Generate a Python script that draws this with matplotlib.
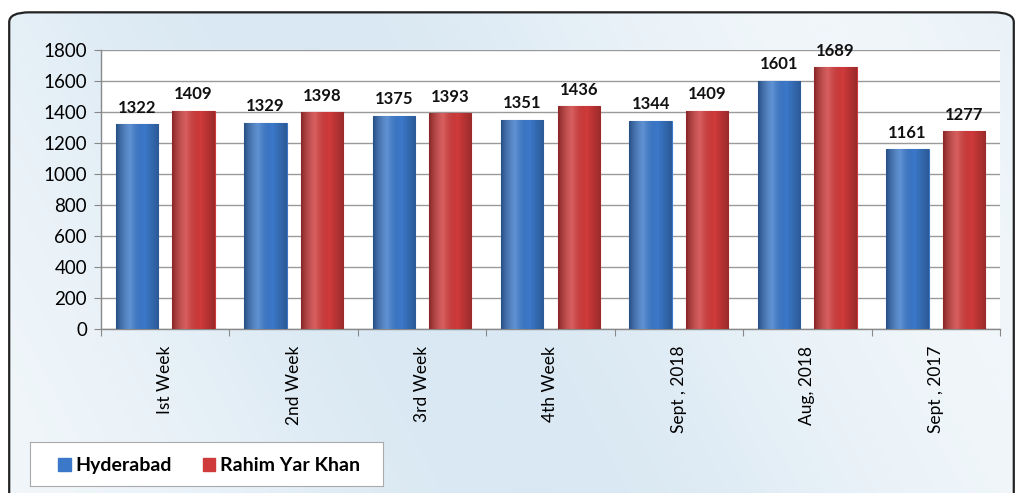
import numpy as np
import matplotlib.pyplot as plt
from matplotlib.patches import FancyBboxPatch, Rectangle
from matplotlib.colors import LinearSegmentedColormap

plt.rcParams['font.family'] = ['Lato', 'DejaVu Sans']

categories = ['Ist Week', '2nd Week', '3rd Week', '4th Week', 'Sept , 2018', 'Aug, 2018', 'Sept , 2017']
hyderabad = [1322, 1329, 1375, 1351, 1344, 1601, 1161]
rahim_yar_khan = [1409, 1398, 1393, 1436, 1409, 1689, 1277]
series_names = ['Hyderabad', 'Rahim Yar Khan']

blue = '#3b78c9'
red = '#cf3a3a'

fig = plt.figure(figsize=(10.23, 4.93), dpi=100)
fig.patch.set_facecolor('white')

# background panel with light blue gradient
bg = fig.add_axes([0, 0, 1, 1], zorder=-10)
bg.set_xlim(0, 1)
bg.set_ylim(0, 1)
bg.axis('off')
grad = np.linspace(0, 1, 256)
gx, gy = np.meshgrid(grad, grad)
field = 0.5 + 0.5 * np.cos(gx * 6.0 + gy * 1.5)
bg_cmap = LinearSegmentedColormap.from_list('bg', ['#d9e8f3', '#f0f6fa'])
img = bg.imshow(field, extent=[0, 1, 0, 1], cmap=bg_cmap, aspect='auto', origin='lower')
frame = FancyBboxPatch((0.009, -0.05), 0.982, 1.025, boxstyle='round,pad=0,rounding_size=0.02',
                       transform=bg.transAxes, facecolor='none', edgecolor='#222222', linewidth=1.6)
bg.add_patch(frame)
img.set_clip_path(frame)

ax = fig.add_axes([0.0987, 0.3327, 0.8788, 0.5659])
ax.set_facecolor('white')

x = np.arange(len(categories))
w = 0.33
off = 0.22


def shaded_bars(xs, vals, color):
    bars = ax.bar(xs, vals, w, color=color, edgecolor=color, linewidth=0.8, zorder=3)
    shade = LinearSegmentedColormap.from_list('s', ['#00000055', '#ffffff30', '#00000000', '#00000040'])
    for b in bars:
        im = ax.imshow(np.linspace(0, 1, 64)[None, :], extent=[b.get_x(), b.get_x() + b.get_width(), 0, b.get_height()],
                       cmap=shade, aspect='auto', zorder=4, origin='lower')
        im.set_clip_path(b)
    return bars


b1 = shaded_bars(x - off, hyderabad, blue)
b2 = shaded_bars(x + off, rahim_yar_khan, red)

for xs, vals in [(x - off, hyderabad), (x + off, rahim_yar_khan)]:
    for xi, v in zip(xs, vals):
        ax.text(xi, v + 55, str(v), ha='center', va='bottom', fontsize=12, fontweight='bold', color='#111111', zorder=5)

ax.set_xlim(-0.5, len(categories) - 0.5)
ax.set_ylim(0, 1800)
ax.set_yticks(np.arange(0, 1801, 200))
ax.yaxis.grid(True, color='#9a9a9a', linewidth=1.0, zorder=0)
ax.set_axisbelow(True)

ax.set_xticks(np.arange(-0.5, len(categories), 1.0))
ax.set_xticklabels([])
ax.set_xticks(x, minor=True)
ax.set_xticklabels(categories, minor=True, rotation=90, fontsize=12.5)
ax.tick_params(axis='x', which='minor', length=0, pad=12)
ax.tick_params(axis='x', which='major', length=5, color='#888888', direction='out')
ax.tick_params(axis='y', length=5, color='#888888', labelsize=13.5, pad=5)

for s in ['top', 'right']:
    ax.spines[s].set_visible(False)
for s in ['left', 'bottom']:
    ax.spines[s].set_color('#888888')
    ax.spines[s].set_linewidth(1.0)

# legend
leg_ax = fig.add_axes([0.029, 0.014, 0.345, 0.09])
leg_ax.set_xlim(0, 1)
leg_ax.set_ylim(0, 1)
leg_ax.set_xticks([])
leg_ax.set_yticks([])
leg_ax.set_facecolor('white')
for s in leg_ax.spines.values():
    s.set_color('#aaaaaa')
leg_ax.add_patch(Rectangle((0.08, 0.33), 0.038, 0.3, facecolor=blue, edgecolor=blue))
leg_ax.text(0.13, 0.47, series_names[0], va='center', ha='left', fontsize=14, fontweight='bold')
leg_ax.add_patch(Rectangle((0.49, 0.33), 0.036, 0.3, facecolor=red, edgecolor=red))
leg_ax.text(0.538, 0.47, series_names[1], va='center', ha='left', fontsize=14, fontweight='bold')

fig.savefig('out.png', dpi=100)
